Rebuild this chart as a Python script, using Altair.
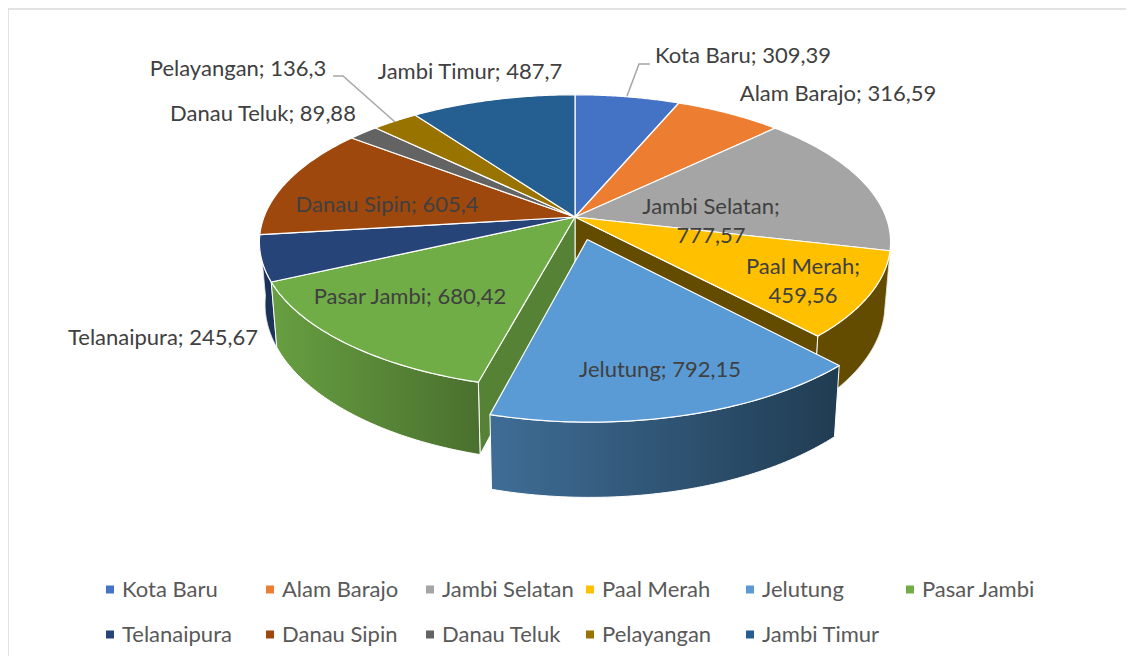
import numpy as np
import pandas as pd
import altair as alt

names = ["Kota Baru", "Alam Barajo", "Jambi Selatan", "Paal Merah", "Jelutung", "Pasar Jambi",
         "Telanaipura", "Danau Sipin", "Danau Teluk", "Pelayangan", "Jambi Timur"]
values = [309.39, 316.59, 777.57, 459.56, 792.15, 680.42, 245.67, 605.4, 89.88, 136.3, 487.7]
value_text = ["309,39", "316,59", "777,57", "459,56", "792,15", "680,42", "245,67", "605,4", "89,88", "136,3", "487,7"]
colors = ["#4472C4", "#ED7D31", "#A5A5A5", "#FFC000", "#5B9BD5", "#70AD47",
          "#264478", "#9E480E", "#636363", "#997300", "#255E91"]

# layout of the 3-D projection
W, H = 1118, 648
CX, CY, R, RY, PERSP, DEPTH, SHRINK = 575.0, 217.0, 311.0, 143.0, 0.17, 60.5, 0.982
EXPLODE = {"Jelutung": 0.158}
FONT = "Lato"
label_pos = {
    "Kota Baru": (743, 56), "Alam Barajo": (838, 94), "Jambi Selatan": (711, 221), "Paal Merah": (803, 281),
    "Jelutung": (660, 370), "Pasar Jambi": (410, 297), "Telanaipura": (163, 338), "Danau Sipin": (387, 205),
    "Danau Teluk": (263, 114), "Pelayangan": (238, 69), "Jambi Timur": (470, 72),
}
wrapped = {"Jambi Selatan", "Paal Merah"}
LINE_GAP = 29
leader_a = (650, 64, 639, 64, 627, 96)
leader_b = (333, 76, 343, 76, 395, 122)

total = sum(values)
cum = np.concatenate([[0], np.cumsum(values)]) / total * 2 * np.pi
start = dict(zip(names, cum[:-1]))
end = dict(zip(names, cum[1:]))


def project(theta, radius=1.0, name=None, bottom=False):
    e = EXPLODE.get(name, 0.0)
    mid = (start[name] + end[name]) / 2
    X = radius * np.sin(theta) + e * np.sin(mid)
    C = -radius * np.cos(theta) - e * np.cos(mid)
    s = 1 / (1 - PERSP * C)
    x = R * X * s
    y = RY * C * s
    if bottom:
        x = x * SHRINK
        y = y + DEPTH * s
    return CX + x, CY + y


def poly(xs, ys, key):
    xs, ys = list(xs), list(ys)
    return pd.DataFrame({"x": xs + xs[:1], "y": ys + ys[:1], "i": range(len(xs) + 1), "k": key})


def top(name):
    t = np.linspace(start[name], end[name], 60)
    xa, ya = project(t, 1.0, name)
    xc, yc = project(np.array([t[0]]), 0.0, name)
    return poly(list(xc) + list(xa), list(yc) + list(ya), name)


def outer(name, t0=None, t1=None):
    t = np.linspace(start[name] if t0 is None else t0, end[name] if t1 is None else t1, 60)
    xa, ya = project(t, 1.0, name)
    xb, yb = project(t[::-1], 1.0, name, True)
    return poly(list(xa) + list(xb), list(ya) + list(yb), name)


def cut(name, theta):
    t = np.array([theta])
    a = project(t, 0.0, name)
    b = project(t, 1.0, name)
    c = project(t, 1.0, name, True)
    d = project(t, 0.0, name, True)
    return poly([a[0][0], b[0][0], c[0][0], d[0][0]], [a[1][0], b[1][0], c[1][0], d[1][0]], name)


X = alt.X("x:Q", axis=None, scale=alt.Scale(domain=[8, 8 + W], range=[0, W], nice=False, zero=False))
Y = alt.Y("y:Q", axis=None, scale=alt.Scale(domain=[8 + H, 8], range=[H, 0], nice=False, zero=False))


def shape(df, fill, stroke="#FFFFFF", sw=1.0):
    return alt.Chart(df).mark_line(fill=fill, stroke=stroke, strokeWidth=sw, strokeJoin="round").encode(
        x=X, y=Y, order="i:Q")


def grad(a, b):
    return alt.Gradient(gradient="linear", x1=0, x2=1, y1=0, y2=0,
                        stops=[alt.GradientStop(color=a, offset=0), alt.GradientStop(color=b, offset=1)])


order_top = [n for n in names if n != "Jelutung"]
tops = pd.concat([top(n) for n in order_top])
tops_layer = alt.Chart(tops).mark_line(stroke="#FFFFFF", strokeWidth=1.2, strokeJoin="round").encode(
    x=X, y=Y, order="i:Q",
    fill=alt.Fill("k:N", scale=alt.Scale(domain=names, range=colors), legend=None))

legend_df = pd.DataFrame({"k": names, "x": [-100.0] * len(names), "y": [-100.0] * len(names)})
legend_layer = alt.Chart(legend_df).mark_square(size=0, opacity=1).encode(
    x=X, y=Y,
    color=alt.Color("k:N", scale=alt.Scale(domain=names, range=colors), sort=None, title=None,
                    legend=alt.Legend(orient="none", legendX=91, legendY=569, columns=6, gridAlign="all",
                                      direction="horizontal",
                                      symbolType="square", symbolSize=64, symbolStrokeWidth=0, symbolOpacity=1,
                                      labelFont=FONT, labelFontSize=22, labelColor="#595959", labelOffset=1,
                                      columnPadding=5, rowPadding=20, clipHeight=25, labelLimit=300,
                                      padding=0)))

rows = []
for n, v in zip(names, value_text):
    px, py = label_pos[n]
    if n in wrapped:
        rows.append({"x": px, "y": py - LINE_GAP / 2, "t": f"{n};"})
        rows.append({"x": px, "y": py + LINE_GAP / 2, "t": v})
    else:
        rows.append({"x": px, "y": py, "t": f"{n}; {v}"})
labels = alt.Chart(pd.DataFrame(rows)).mark_text(
    font=FONT, fontSize=22, color="#404040", align="center", baseline="middle").encode(x=X, y=Y, text="t:N")


def leader(p, key):
    return pd.DataFrame({"x": p[0::2], "y": p[1::2], "i": range(3), "k": key})


leaders = alt.Chart(pd.concat([leader(leader_a, "a"), leader(leader_b, "b")])).mark_line(
    stroke="#A6A6A6", strokeWidth=1.5).encode(x=X, y=Y, order="i:Q", detail="k:N")

frame = pd.DataFrame({"x": [8.0, 8.0, 8 + W], "y": [8 + H, 9.0, 9.0], "i": [0, 1, 2]})
frame_layer = alt.Chart(frame).mark_line(stroke="#D9D9D9", strokeWidth=1.5).encode(x=X, y=Y, order="i:Q")

back_walls = [
    shape(outer("Paal Merah"), "#634B00", "#E8E8E8", 0.8),
    shape(cut("Paal Merah", end["Paal Merah"]), "#634B00"),
    shape(outer("Telanaipura"), "#1B3358", "#E8E8E8", 0.8),
    shape(cut("Pasar Jambi", start["Pasar Jambi"]), "#568235"),
    shape(outer("Pasar Jambi"), grad("#679F41", "#4A702E")),
]
front = [
    shape(outer("Jelutung"), grad("#3F6D96", "#203C52")),
    shape(top("Jelutung"), "#5B9BD5", "#FFFFFF", 1.2),
]

chart = alt.layer(frame_layer, legend_layer, *back_walls, tops_layer, *front, leaders, labels).properties(
    width=W, height=H, padding=0, background="#FFFFFF",
    autosize=alt.AutoSizeParams(type="none")
).configure_view(stroke=None)

chart.save("out.html", embed_options={"renderer": "svg", "actions": False})
